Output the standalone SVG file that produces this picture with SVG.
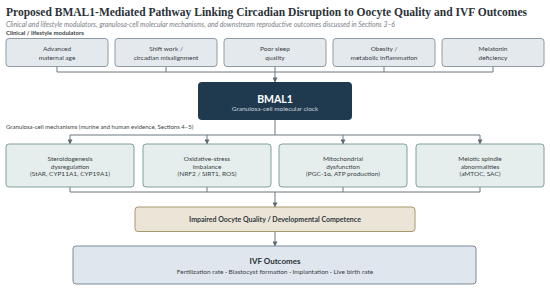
<svg xmlns="http://www.w3.org/2000/svg" width="550" height="291" viewBox="0 0 550 291">
<defs>
<marker id="ah" viewBox="0 0 6 6" refX="5.5" refY="3" markerWidth="5" markerHeight="5" orient="auto" markerUnits="userSpaceOnUse">
<path d="M0,0 L6,3 L0,6 Z" fill="#5f6a73"/>
</marker>
<style>
.t{font-family:Lato,"Liberation Sans",sans-serif;fill:#3a3f44;font-size:6.5px;text-anchor:middle}
.mod{fill:#e4e9ee;stroke:#8e9aa5;stroke-width:1}
.mech{fill:#e5eeed;stroke:#7f9f9c;stroke-width:1}
.c{fill:none;stroke:#6c767e;stroke-width:1}
</style>
</defs>
<rect width="550" height="291" fill="#ffffff"/>
<text x="6" y="16" font-family="'Liberation Serif',serif" font-weight="bold" font-size="11.8" fill="#2b3238" textLength="521" lengthAdjust="spacingAndGlyphs">Proposed BMAL1-Mediated Pathway Linking Circadian Disruption to Oocyte Quality and IVF Outcomes</text>
<text x="6" y="27" font-family="Lato,'Liberation Sans',sans-serif" font-style="italic" font-size="6.8" fill="#7a8088" textLength="389" lengthAdjust="spacingAndGlyphs">Clinical and lifestyle modulators, granulosa-cell molecular mechanisms, and downstream reproductive outcomes discussed in Sections 3–6</text>
<text x="6" y="34.5" font-family="Lato,'Liberation Sans',sans-serif" font-weight="bold" font-size="6" fill="#3a3f44">Clinical / lifestyle modulators</text>

<g id="connectors">
<path class="c" d="M57,66 V72 M166,66 V72 M275,66 V72 M384,66 V72 M493,66 V72 M57,72 H493"/>
<path class="c" d="M275,72 V82" marker-end="url(#ah)"/>
<path class="c" d="M275,120 V135 M70,135 H480"/>
<path class="c" d="M70,135 V144" marker-end="url(#ah)"/>
<path class="c" d="M207,135 V144" marker-end="url(#ah)"/>
<path class="c" d="M343,135 V144" marker-end="url(#ah)"/>
<path class="c" d="M480,135 V144" marker-end="url(#ah)"/>
<path class="c" d="M70,187 V192 M207,187 V192 M343,187 V192 M480,187 V192 M70,192 H480"/>
<path class="c" d="M275,192 V207" marker-end="url(#ah)"/>
<path class="c" d="M275,231 V246" marker-end="url(#ah)"/>
</g>

<g id="mod1"><rect class="mod" x="6" y="38.5" width="102" height="28" rx="3"/><text class="t" x="57" y="51">Advanced</text><text class="t" x="57" y="59.5">maternal age</text></g>
<g id="mod2"><rect class="mod" x="115" y="38.5" width="102" height="28" rx="3"/><text class="t" x="166" y="51">Shift work /</text><text class="t" x="166" y="59.5">circadian misalignment</text></g>
<g id="mod3"><rect class="mod" x="224" y="38.5" width="102" height="28" rx="3"/><text class="t" x="275" y="51">Poor sleep</text><text class="t" x="275" y="59.5">quality</text></g>
<g id="mod4"><rect class="mod" x="333" y="38.5" width="102" height="28" rx="3"/><text class="t" x="384" y="51">Obesity /</text><text class="t" x="384" y="59.5">metabolic inflammation</text></g>
<g id="mod5"><rect class="mod" x="442" y="38.5" width="102" height="28" rx="3"/><text class="t" x="493" y="51">Melatonin</text><text class="t" x="493" y="59.5">deficiency</text></g>

<g id="bmal1"><rect x="198" y="82" width="154" height="38" rx="4" fill="#1f3a4e"/><text x="275" y="103" font-family="Lato,'Liberation Sans',sans-serif" font-weight="bold" font-size="10.5" fill="#ffffff" text-anchor="middle">BMAL1</text><text x="275" y="111" font-family="Lato,'Liberation Sans',sans-serif" font-size="6.5" fill="#c9d3dc" text-anchor="middle">Granulosa-cell molecular clock</text></g>

<text x="6" y="129" font-family="Lato,'Liberation Sans',sans-serif" font-size="6" fill="#3a3f44">Granulosa-cell mechanisms (murine and human evidence, Sections 4–5)</text>

<g id="mech1"><rect class="mech" x="6" y="144" width="128" height="43" rx="3"/><text class="t" x="70" y="161">Steroidogenesis</text><text class="t" x="70" y="168.5">dysregulation</text><text class="t" x="70" y="176">(StAR, CYP11A1, CYP19A1)</text></g>
<g id="mech2"><rect class="mech" x="143" y="144" width="128" height="43" rx="3"/><text class="t" x="207" y="161">Oxidative-stress</text><text class="t" x="207" y="168.5">imbalance</text><text class="t" x="207" y="176">(NRF2 / SIRT1, ROS)</text></g>
<g id="mech3"><rect class="mech" x="279" y="144" width="128" height="43" rx="3"/><text class="t" x="343" y="161">Mitochondrial</text><text class="t" x="343" y="168.5">dysfunction</text><text class="t" x="343" y="176">(PGC-1α, ATP production)</text></g>
<g id="mech4"><rect class="mech" x="416" y="144" width="128" height="43" rx="3"/><text class="t" x="480" y="161">Meiotic spindle</text><text class="t" x="480" y="168.5">abnormalities</text><text class="t" x="480" y="176">(aMTOC, SAC)</text></g>

<g id="impaired"><rect x="135" y="207" width="280" height="24.5" rx="3" fill="#ebe5d7" stroke="#a8976f" stroke-width="1"/><text x="275" y="222" font-family="Lato,'Liberation Sans',sans-serif" font-weight="bold" font-size="7" fill="#33383d" text-anchor="middle">Impaired Oocyte Quality / Developmental Competence</text></g>

<g id="ivf"><rect x="73" y="246" width="403" height="38" rx="3" fill="#dfe6ee" stroke="#7d8c9b" stroke-width="1"/><text x="275" y="264" font-family="Lato,'Liberation Sans',sans-serif" font-weight="bold" font-size="8" fill="#2b3238" text-anchor="middle">IVF Outcomes</text><text class="t" x="275" y="273.5">Fertilization rate  ·  Blastocyst formation  ·  Implantation  ·  Live birth rate</text></g>
</svg>
